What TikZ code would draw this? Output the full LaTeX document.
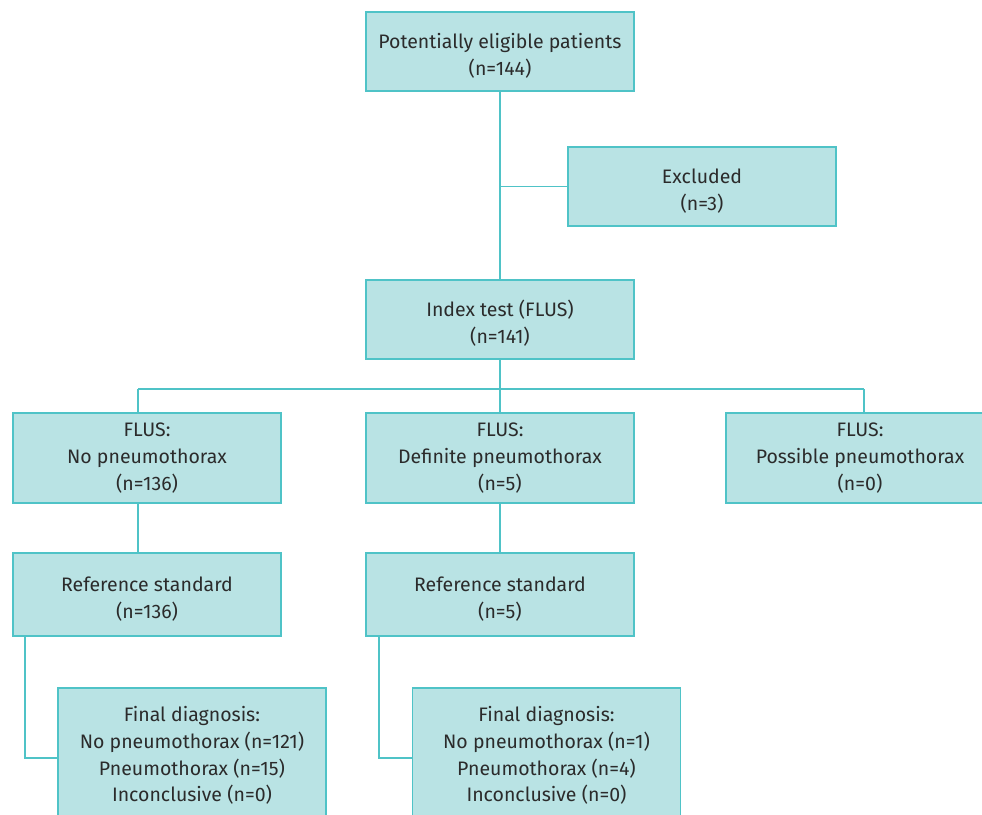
\documentclass[tikz,border=0pt]{standalone}
\usepackage{fontspec}
\setmainfont{Fira Sans}
\usepackage{tikz}
\usetikzlibrary{positioning}
\definecolor{boxfill}{HTML}{B9E3E4}
\definecolor{boxline}{HTML}{4FC3C7}
\definecolor{boxtext}{HTML}{2B2B2B}

\begin{document}
\begin{tikzpicture}[
  x=1pt, y=-1pt,
  flowbox/.style={draw=boxline, fill=boxfill, line width=1.6pt, rectangle, minimum width=268pt, minimum height=79pt, inner sep=0pt, align=center, text=boxtext, font=\fontsize{19.5}{26.8}\selectfont},
  lowtext/.style={text height=50pt},
  link/.style={draw=boxline, line width=1.6pt}
]
\path[use as bounding box, clip] (0,0) rectangle (982,814);
\node[flowbox, lowtext] (eligible) at (500,51.5) {Potentially eligible patients\\(n=144)};
\node[flowbox, lowtext] (excluded) at (702,186.5) {Excluded\\(n=3)};
\node[flowbox, lowtext] (index) at (500,319.5) {Index test (FLUS)\\(n=141)};
\node[flowbox, minimum height=90pt] (flusno) at (147,458) {FLUS:\\No pneumothorax\\(n=136)};
\node[flowbox, minimum height=90pt] (flusdef) at (500,458) {FLUS:\\Definite pneumothorax\\(n=5)};
\node[flowbox, minimum height=90pt] (flusposs) at (860,458) {FLUS:\\Possible pneumothorax\\(n=0)};
\node[flowbox, lowtext, minimum height=83pt] (refno) at (147,594.5) {Reference standard\\(n=136)};
\node[flowbox, lowtext, minimum height=83pt] (refdef) at (500,594.5) {Reference standard\\(n=5)};
\node[flowbox, minimum height=135pt] (finalno) at (192,755.5) {Final diagnosis:\\No pneumothorax (n=121)\\Pneumothorax (n=15)\\Inconclusive (n=0)};
\node[flowbox, minimum height=135pt] (finaldef) at (546.5,755.5) {Final diagnosis:\\No pneumothorax (n=1)\\Pneumothorax (n=4)\\Inconclusive (n=0)};
% branch points
\coordinate (split) at (500,389);
\coordinate (leftdrop) at (138,389);
\coordinate (rightdrop) at (864,389);
\coordinate (noturn) at (25,758);
\coordinate (defturn) at (379,758);
\draw[link] (eligible) -- (index);
\draw[link] (excluded.west) -- (excluded.west -| eligible.south);
\draw[link] (leftdrop) -- (rightdrop);
\draw[link] (index) -- (flusdef);
\draw[link] (leftdrop) -- (leftdrop |- flusno.north);
\draw[link] (rightdrop) -- (rightdrop |- flusposs.north);
\draw[link] (leftdrop |- flusno.south) -- (leftdrop |- refno.north);
\draw[link] (flusdef) -- (refdef);
\draw[link] (noturn |- refno.south) -- (noturn) -- (noturn -| finalno.west);
\draw[link] (defturn |- refdef.south) -- (defturn) -- (defturn -| finaldef.west);
\end{tikzpicture}
\end{document}
